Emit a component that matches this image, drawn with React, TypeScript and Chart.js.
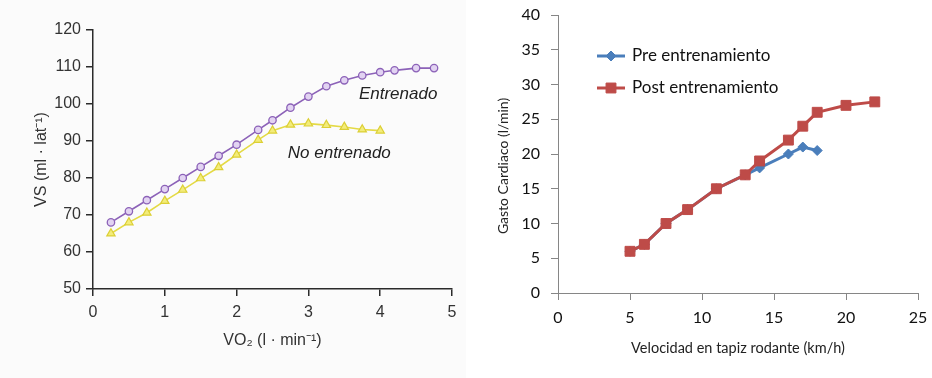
import React, { useEffect, useRef } from 'react';
import { Chart, registerables } from 'chart.js';

Chart.register(...registerables);

// ---- Left chart: VS vs VO2 ----
const vo2Entrenado = [0.25, 0.5, 0.75, 1, 1.25, 1.5, 1.75, 2, 2.3, 2.5, 2.75, 3, 3.25, 3.5, 3.75, 4, 4.2, 4.5, 4.75];
const vsEntrenado = [68, 71, 74, 77, 80, 83, 86, 89, 93, 95.6, 99, 102, 104.8, 106.4, 107.7, 108.6, 109.1, 109.7, 109.7];
const vo2NoEntrenado = [0.25, 0.5, 0.75, 1, 1.25, 1.5, 1.75, 2, 2.3, 2.5, 2.75, 3, 3.25, 3.5, 3.75, 4];
const vsNoEntrenado = [65, 68, 70.6, 73.8, 76.8, 79.9, 82.9, 86.3, 90.3, 92.8, 94.4, 94.7, 94.3, 93.8, 93.1, 92.8];
const leftLabels = [
  { text: 'Entrenado', x: 4.25, y: 102.7 },
  { text: 'No entrenado', x: 3.43, y: 86.6 },
];

// ---- Right chart: Gasto cardiaco vs velocidad ----
const speedPre = [5, 6, 7.5, 9, 11, 13, 14, 16, 17, 18];
const gcPre = [6, 7, 10, 12, 15, 17, 18, 20, 21, 20.5];
const speedPost = [5, 6, 7.5, 9, 11, 13, 14, 16, 17, 18, 20, 22];
const gcPost = [6, 7, 10, 12, 15, 17, 19, 22, 24, 26, 27, 27.5];
const preLabel = 'Pre entrenamiento';
const postLabel = 'Post entrenamiento';

const PURPLE = '#8c62b8';
const YELLOW = '#e4da45';
const BLUE = '#4a7ebb';
const RED = '#be4b48';

const pts = (xs: number[], ys: number[]) => xs.map((x, i) => ({ x, y: ys[i] }));

const leftAnnot = {
  id: 'leftAnnot',
  afterDraw(chart: any) {
    const { ctx } = chart;
    const xs = chart.scales.x;
    const ys = chart.scales.y;
    ctx.save();
    ctx.font = 'italic 17px "Liberation Sans", Arial, sans-serif';
    ctx.fillStyle = '#222';
    ctx.textAlign = 'center';
    ctx.textBaseline = 'middle';
    leftLabels.forEach((l) => {
      ctx.fillText(l.text, xs.getPixelForValue(l.x), ys.getPixelForValue(l.y));
    });
    ctx.restore();
  },
};

const rightExtras = {
  id: 'rightExtras',
  afterDraw(chart: any) {
    const { ctx, chartArea } = chart;
    ctx.save();
    // y axis title
    ctx.font = '14px Lato, sans-serif';
    ctx.fillStyle = '#222';
    ctx.textAlign = 'center';
    ctx.textBaseline = 'middle';
    ctx.translate(37, (chartArea.top + chartArea.bottom) / 2 + 12);
    ctx.rotate(-Math.PI / 2);
    ctx.fillText('Gasto Cardiaco (l/min)', 0, 0);
    ctx.restore();

    // legend
    const items = [
      { label: preLabel, color: BLUE, style: 'rectRot', r: 5, dy: 41 },
      { label: postLabel, color: RED, style: 'rect', r: 7, dy: 73 },
    ];
    items.forEach((it) => {
      const y = chartArea.top + it.dy;
      const x0 = chartArea.left + 39;
      ctx.save();
      ctx.strokeStyle = it.color;
      ctx.lineWidth = 3;
      ctx.beginPath();
      ctx.moveTo(x0, y);
      ctx.lineTo(x0 + 28, y);
      ctx.stroke();
      ctx.fillStyle = it.color;
      ctx.strokeStyle = it.color;
      ctx.lineWidth = 1;
      ctx.beginPath();
      if (it.style === 'rectRot') {
        ctx.moveTo(x0 + 14, y - it.r);
        ctx.lineTo(x0 + 14 + it.r, y);
        ctx.lineTo(x0 + 14, y + it.r);
        ctx.lineTo(x0 + 14 - it.r, y);
        ctx.closePath();
      } else {
        const s = it.r * Math.SQRT1_2;
        ctx.rect(x0 + 14 - s, y - s, 2 * s, 2 * s);
      }
      ctx.fill();
      ctx.stroke();
      ctx.font = '17px Lato, sans-serif';
      ctx.fillStyle = '#111';
      ctx.textAlign = 'left';
      ctx.textBaseline = 'middle';
      ctx.fillText(it.label, x0 + 35, y);
      ctx.restore();
    });
  },
};

function LeftChart() {
  const ref = useRef<HTMLCanvasElement>(null);
  useEffect(() => {
    if (!ref.current) return;
    const axisColor = '#2b2b2b';
    const tickFont = { family: '"Liberation Sans", Arial, sans-serif', size: 16 };
    const chart = new Chart(ref.current, {
      type: 'line',
      data: {
        datasets: [
          {
            label: 'Entrenado',
            data: pts(vo2Entrenado, vsEntrenado),
            borderColor: PURPLE,
            backgroundColor: '#e2d3f2',
            pointBorderColor: PURPLE,
            pointBackgroundColor: '#e2d3f2',
            pointStyle: 'circle',
            pointRadius: 3.7,
            pointBorderWidth: 1.3,
            borderWidth: 1.6,
            tension: 0,
          },
          {
            label: 'No entrenado',
            data: pts(vo2NoEntrenado, vsNoEntrenado),
            borderColor: YELLOW,
            backgroundColor: '#f3ec7a',
            pointBorderColor: '#dccf35',
            pointBackgroundColor: '#f3ec7a',
            pointStyle: 'triangle',
            pointRadius: 4.8,
            pointBorderWidth: 1.2,
            borderWidth: 1.6,
            tension: 0,
          },
        ],
      },
      options: {
        responsive: false,
        animation: false,
        devicePixelRatio: 1,
        layout: { padding: { left: 0, right: 14, top: 30, bottom: 0 } },
        plugins: { legend: { display: false }, tooltip: { enabled: false } },
        scales: {
          x: {
            type: 'linear',
            min: 0,
            max: 5,
            ticks: { stepSize: 1, color: '#333', font: tickFont, padding: 7 },
            grid: { drawOnChartArea: false, drawTicks: true, tickLength: 7, color: axisColor, lineWidth: 1.5 },
            border: { display: true, color: axisColor, width: 1.5 },
            title: {
              display: true,
              text: 'VO₂ (l · min⁻¹)',
              color: '#333',
              font: { family: '"Liberation Sans", Arial, sans-serif', size: 16 },
              padding: { top: 0, bottom: 28 },
            },
            afterFit: (s: any) => { s.height = 89; s.paddingLeft = 0; s.paddingRight = 0; },
          },
          y: {
            type: 'linear',
            min: 50,
            max: 120,
            ticks: { stepSize: 10, color: '#333', font: tickFont, padding: 5 },
            grid: { drawOnChartArea: false, drawTicks: true, tickLength: 7, color: axisColor, lineWidth: 1.5 },
            border: { display: true, color: axisColor, width: 1.5 },
            title: {
              display: true,
              text: 'VS (ml · lat⁻¹)',
              color: '#333',
              font: { family: '"Liberation Sans", Arial, sans-serif', size: 16 },
              padding: { top: 32, bottom: 0 },
            },
            afterFit: (s: any) => { s.width = 93; s.paddingTop = 0; s.paddingBottom = 0; },
          },
        },
      },
      plugins: [leftAnnot],
    } as any);
    return () => chart.destroy();
  }, []);
  return <canvas ref={ref} width={466} height={378} style={{ display: 'block', background: '#fbfbfb' }} />;
}

function RightChart() {
  const ref = useRef<HTMLCanvasElement>(null);
  useEffect(() => {
    if (!ref.current) return;
    const axisColor = '#868686';
    const tickFont = { family: 'Lato, sans-serif', size: 16 };
    const chart = new Chart(ref.current, {
      type: 'line',
      data: {
        datasets: [
          {
            label: preLabel,
            data: pts(speedPre, gcPre),
            borderColor: BLUE,
            backgroundColor: BLUE,
            pointStyle: 'rectRot',
            pointRadius: 5,
            pointBorderWidth: 1,
            borderWidth: 3,
            tension: 0,
            order: 1,
          },
          {
            label: postLabel,
            data: pts(speedPost, gcPost),
            borderColor: RED,
            backgroundColor: RED,
            pointStyle: 'rect',
            pointRadius: 7,
            pointBorderWidth: 1,
            borderWidth: 3,
            tension: 0,
            order: 0,
          },
        ],
      },
      options: {
        responsive: false,
        animation: false,
        devicePixelRatio: 1,
        layout: { padding: { left: 0, right: 14, top: 15, bottom: 0 } },
        plugins: { legend: { display: false }, tooltip: { enabled: false } },
        scales: {
          x: {
            type: 'linear',
            min: 0,
            max: 25,
            ticks: { stepSize: 5, color: '#111', font: tickFont, padding: 8 },
            grid: { drawOnChartArea: false, drawTicks: true, tickLength: 7, color: axisColor, lineWidth: 1 },
            border: { display: true, color: axisColor, width: 1 },
            title: {
              display: true,
              text: 'Velocidad en tapiz rodante (km/h)',
              color: '#222',
              font: { family: 'Lato, sans-serif', size: 14.5 },
              padding: { top: 0, bottom: 21 },
            },
            afterFit: (s: any) => { s.height = 85; s.paddingLeft = 0; s.paddingRight = 0; },
          },
          y: {
            type: 'linear',
            min: 0,
            max: 40,
            ticks: { stepSize: 5, color: '#111', font: tickFont, padding: 11 },
            grid: { drawOnChartArea: false, drawTicks: true, tickLength: 7, color: axisColor, lineWidth: 1 },
            border: { display: true, color: axisColor, width: 1 },
            afterFit: (s: any) => { s.width = 92; s.paddingTop = 0; s.paddingBottom = 0; },
          },
        },
      },
      plugins: [rightExtras],
    } as any);
    return () => chart.destroy();
  }, []);
  return <canvas ref={ref} width={466} height={378} style={{ display: 'block', background: '#ffffff' }} />;
}

export default function App() {
  return (
    <div style={{ position: 'fixed', left: 0, top: 0, width: 932, height: 378, display: 'flex', background: '#fff' }}>
      <LeftChart />
      <RightChart />
    </div>
  );
}
